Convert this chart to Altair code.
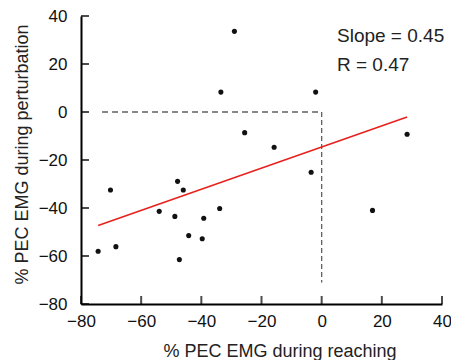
import altair as alt
import pandas as pd

# data
reach = [-29.0, -33.5, -2.0, -25.6, 28.4, -15.8, -3.5, -47.9, -46.0, -70.2,
         -33.9, -54.0, 16.9, -48.8, -39.2, -44.2, -39.7, -68.4, -74.3, -47.3]
pert = [33.6, 8.3, 8.3, -8.6, -9.3, -14.7, -25.1, -28.9, -32.5, -32.5,
        -40.2, -41.4, -41.0, -43.5, -44.3, -51.5, -52.8, -56.1, -58.0, -61.5]

fit_x = [-74.3, 28.4]
fit_y = [-47.3, -2.1]

href = {"x": [-73.0], "x2": [0.0], "y": [0.0]}
vref = {"x": [0.0], "y": [0.0], "y2": [-71.0]}

ticks = [-80, -60, -40, -20, 0, 20, 40]
yticks = [-80, -60, -40, -20, 0, 20, 40]

slope_label = "Slope = 0.45"
r_label = "R = 0.47"

W, H = 361, 288
FONT = "Liberation Sans"

pts = pd.DataFrame({"x": reach, "y": pert})
fit = pd.DataFrame({"x": fit_x, "y": fit_y})

xs = alt.Scale(domain=[-80, 40], nice=False, zero=False)
ys = alt.Scale(domain=[-80, 40], nice=False, zero=False)

xaxis = alt.Axis(values=ticks, grid=False, ticks=False, tickSize=0, domainColor="black",
                 domainWidth=2, labelFont=FONT, labelFontSize=17, labelColor="#111111",
                 labelPadding=9, labelFlush=False, labelOverlap=False,
                 title="% PEC EMG during reaching", titleFont=FONT,
                 titleFontSize=18, titleFontWeight="normal", titleColor="#222222",
                 titleX=198.5, titleY=52, titleAnchor="start", titleAlign="center",
                 titleBaseline="alphabetic")
yaxis = alt.Axis(values=yticks, grid=False, ticks=False, tickSize=0, domainColor="black",
                 domainWidth=2, labelFont=FONT, labelFontSize=17, labelColor="#111111",
                 labelPadding=14, labelFlush=False, labelOverlap=False,
                 title="% PEC EMG during perturbation", titleFont=FONT,
                 titleFontSize=18, titleFontWeight="normal", titleColor="#222222",
                 titleX=-54, titleY=138, titleAlign="center", titleAngle=270,
                 titleBaseline="alphabetic")


def X(field):
    return alt.X(field, scale=xs, axis=xaxis)


def Y(field):
    return alt.Y(field, scale=ys, axis=yaxis)


hline = alt.Chart(pd.DataFrame(href)).mark_rule(color="#111111", strokeWidth=1.2,
                                                 strokeDash=[6, 4]).encode(
    x=X("x:Q"), x2="x2:Q", y=Y("y:Q"))
vline = alt.Chart(pd.DataFrame(vref)).mark_rule(color="#555555", strokeWidth=1.2,
                                                 strokeDash=[5, 3]).encode(
    x=X("x:Q"), y=Y("y:Q"), y2="y2:Q")

line = alt.Chart(fit).mark_line(color="#e8201c", strokeWidth=1.5).encode(
    x=X("x:Q"), y=Y("y:Q"))

points = alt.Chart(pts).mark_circle(size=26, color="#111111", opacity=1).encode(
    x=X("x:Q"), y=Y("y:Q"))

xt = alt.Chart(pd.DataFrame({"t": ticks})).mark_tick(
    orient="vertical", size=8, thickness=2, color="black").encode(
    x=X("t:Q"), y=alt.value(H - 4))
yt = alt.Chart(pd.DataFrame({"t": yticks})).mark_tick(
    orient="horizontal", size=8, thickness=2, color="black").encode(
    y=Y("t:Q"), x=alt.value(4))

txt1 = alt.Chart(pd.DataFrame({"label": [slope_label]})).mark_text(
    align="left", baseline="alphabetic", font=FONT, fontSize=19, color="#222222").encode(
    text="label:N", x=alt.value(256), y=alt.value(26))
txt2 = alt.Chart(pd.DataFrame({"label": [r_label]})).mark_text(
    align="left", baseline="alphabetic", font=FONT, fontSize=19, color="#222222").encode(
    text="label:N", x=alt.value(256), y=alt.value(55))

chart = alt.layer(hline, vline, line, points, xt, yt, txt1, txt2).properties(
    width=W, height=H,
    autosize=alt.AutoSizeParams(type="none"),
    padding={"left": 73, "top": 8, "right": 9, "bottom": 56},
).configure_view(stroke=None)

chart.save("out.html", embed_options={"renderer": "svg", "actions": False})
